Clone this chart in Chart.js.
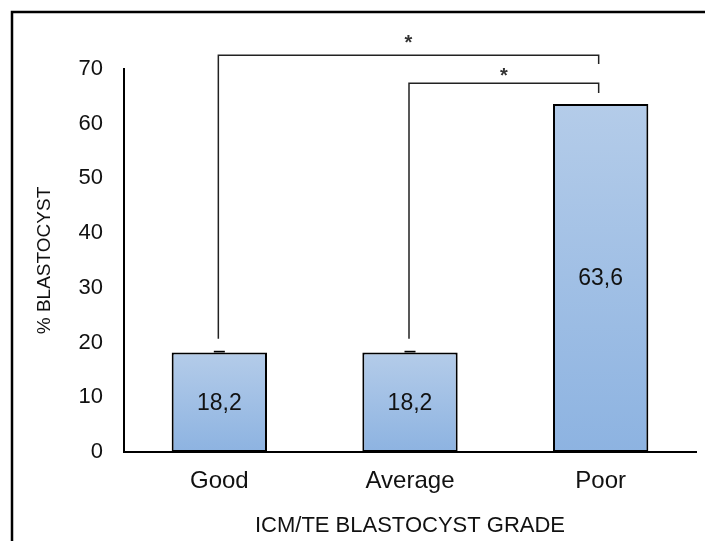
<!DOCTYPE html>
<html>
<head>
<meta charset="utf-8">
<script src="https://cdn.jsdelivr.net/npm/chart.js@4/dist/chart.umd.min.js"></script>
<style>
  body { margin: 0; background: #fff; }
  #wrap { width: 705px; height: 541px; position: relative; }
</style>
</head>
<body>
<div id="wrap"><canvas id="blastChart"></canvas></div>
<script>
// data
const grades = ["Good", "Average", "Poor"];
const blastocystPct = [18.2, 18.2, 63.6];
const errors = [0.3, 0.3, 0];
const yTicks = [0, 10, 20, 30, 40, 50, 60, 70];

// significance brackets (category index + levels in % units)
const bracketFrom = [0, 1];
const bracketTo = [2, 2];
const bracketLevel = [72.5, 67.4];
const bracketLeftEnd = [20.7, 20.7];
const bracketRightEnd = [70.9, 65.6];
const starLevel = [75.5, 69.5];
const bracketMark = ["*", "*"];

const FONT = "'Liberation Sans', Arial, sans-serif";

const framePlugin = {
  id: "frame",
  beforeDraw(chart) {
    const ctx = chart.ctx;
    ctx.save();
    ctx.fillStyle = "#fff";
    ctx.fillRect(0, 0, chart.width, chart.height);
    ctx.strokeStyle = "#000";
    ctx.lineWidth = 2.5;
    ctx.strokeRect(12, 12, 800, 600);
    ctx.restore();
  },
};

const extrasPlugin = {
  id: "extras",
  afterDatasetsDraw(chart) {
    const ctx = chart.ctx;
    const x = chart.scales.x;
    const y = chart.scales.y;
    const meta = chart.getDatasetMeta(0);
    ctx.save();

    // error caps
    ctx.fillStyle = "#000";
    meta.data.forEach((bar, i) => {
      if (errors[i] <= 0) return;
      const top = y.getPixelForValue(blastocystPct[i] + errors[i]);
      ctx.fillRect(bar.x - 5.5, top, 11, bar.y - top);
    });

    // value labels
    ctx.fillStyle = "#111";
    ctx.font = "23px " + FONT;
    ctx.textAlign = "center";
    ctx.textBaseline = "middle";
    meta.data.forEach((bar, i) => {
      const txt = blastocystPct[i].toFixed(1).replace(".", ",");
      ctx.fillText(txt, bar.x, (bar.y + bar.base) / 2 + 1);
    });

    // brackets
    ctx.strokeStyle = "#222";
    ctx.lineWidth = 1.5;
    bracketFrom.forEach((from, i) => {
      const x1 = x.getPixelForValue(from) - 1;
      const x2 = x.getPixelForValue(bracketTo[i]) - 2;
      const yl = y.getPixelForValue(bracketLevel[i]);
      ctx.beginPath();
      ctx.moveTo(x1, y.getPixelForValue(bracketLeftEnd[i]));
      ctx.lineTo(x1, yl);
      ctx.lineTo(x2, yl);
      ctx.lineTo(x2, y.getPixelForValue(bracketRightEnd[i]));
      ctx.stroke();

      ctx.fillStyle = "#333";
      ctx.font = "bold 20px " + FONT;
      ctx.textBaseline = "alphabetic";
      ctx.fillText(bracketMark[i], (x1 + x2) / 2, y.getPixelForValue(starLevel[i]) + 10.5);
    });
    ctx.restore();
  },
};

function barGradient(context) {
  const chart = context.chart;
  if (!chart.chartArea || context.dataIndex === undefined) return "#a3c0e4";
  const y = chart.scales.y;
  const top = y.getPixelForValue(blastocystPct[context.dataIndex]);
  const bottom = y.getPixelForValue(0);
  const g = chart.ctx.createLinearGradient(0, top, 0, bottom);
  g.addColorStop(0, "#b4cce9");
  g.addColorStop(1, "#8db3e1");
  return g;
}

new Chart(document.getElementById("blastChart"), {
  type: "bar",
  data: {
    labels: grades,
    datasets: [
      {
        data: blastocystPct,
        backgroundColor: barGradient,
        borderColor: "#000",
        borderWidth: 2,
        borderSkipped: false,
        barPercentage: 0.5,
        categoryPercentage: 1,
      },
    ],
  },
  options: {
    responsive: true,
    maintainAspectRatio: false,
    animation: false,
    layout: { padding: { top: 69, right: 9, left: 0, bottom: 0 } },
    plugins: { legend: { display: false }, tooltip: { enabled: false } },
    scales: {
      x: {
        grid: { display: false, drawTicks: false },
        border: { display: true, color: "#000", width: 2 },
        ticks: { color: "#111", font: { family: FONT, size: 24 }, padding: 15 },
        title: {
          display: true,
          text: "ICM/TE BLASTOCYST GRADE",
          color: "#111",
          font: { family: FONT, size: 22 },
          padding: { top: 0, bottom: 2 },
        },
        afterFit(scale) { scale.height = 89; },
      },
      y: {
        min: 0,
        max: 70,
        afterBuildTicks(scale) { scale.ticks = yTicks.map((v) => ({ value: v })); },
        grid: { display: false, drawTicks: false },
        border: { display: true, color: "#000", width: 2 },
        ticks: { color: "#111", font: { family: FONT, size: 22 }, padding: 21 },
        title: {
          display: true,
          text: "% BLASTOCYST",
          color: "#111",
          font: { family: FONT, size: 19 },
          padding: { top: 33, bottom: 0 },
        },
        afterFit(scale) { scale.width = 124; },
      },
    },
  },
  plugins: [framePlugin, extrasPlugin],
});
</script>
</body>
</html>
